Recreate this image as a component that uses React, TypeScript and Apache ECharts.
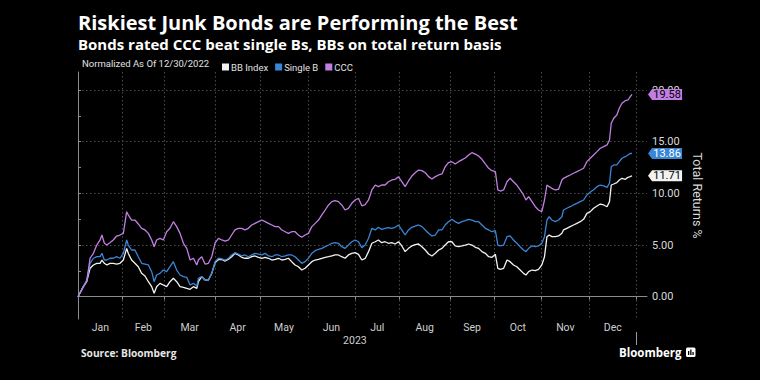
import React, { useEffect, useRef } from 'react';
import * as echarts from 'echarts';

// x = trading days since 12/30/2022
const tradingDays = [
  0, 2.4, 3.9, 5.4, 6.9, 8.4, 9.9, 10.7, 11.8, 12.9, 14.3, 15.8, 17.3, 18.8, 20.3, 21.8, 22.5, 24.0, 25.5, 27.0,
  28.5, 30.0, 31.5, 33.0, 34.1, 35.2, 36.7, 38.2, 39.7, 41.2, 42.7, 44.2, 45.7, 47.2, 48.7, 50.2, 51.7, 53.2, 53.9, 55.4,
  56.9, 58.4, 59.9, 61.4, 62.9, 64.4, 65.9, 67.4, 68.8, 70.3, 71.8, 73.3, 74.8, 76.3, 77.8, 79.3, 80.8, 82.3, 83.8, 85.3,
  86.8, 88.3, 89.8, 91.3, 92.8, 94.2, 95.7, 97.2, 98.7, 100.2, 101.7, 103.2, 104.7, 106.2, 107.7, 109.2, 110.7, 112.2, 113.7, 115.1,
  116.6, 118.1, 119.6, 121.1, 122.6, 124.1, 125.6, 127.1, 128.6, 130.1, 131.6, 133.1, 134.5, 136.0, 137.5, 139.0, 140.5, 142.0, 143.5, 145.0,
  146.5, 148.0, 149.5, 151.0, 152.5, 154.0, 155.5, 157.0, 158.5, 160.0, 161.5, 163.0, 164.4, 165.9, 167.4, 168.9, 170.4, 171.9, 173.4, 174.9,
  176.4, 177.9, 179.4, 180.9, 182.4, 183.9, 185.4, 186.9, 188.0, 189.1, 190.6, 192.1, 193.5, 195.0, 196.5, 198.0, 199.5, 200.6, 201.8, 203.3,
  204.8, 206.2, 207.7, 208.9, 210.0, 211.0, 212.2, 213.7, 215.2, 216.7, 217.4, 218.9, 220.4, 221.9, 223.4, 224.9, 226.4, 227.9, 229.4, 230.9,
  232.4, 233.9, 235.4, 236.9, 238.0, 238.8, 239.9, 241.3, 242.4, 243.6, 245.1, 246.3, 247.3, 248.1,
];

const ccc = [
  0, 0.97, 1.45, 3.72, 4.2, 5.0, 5.49, 5.97, 5.17, 5.0, 5.23, 5.49, 5.87, 5.97, 6.13, 8.23, 7.91, 7.42, 7.42, 7.04,
  6.62, 6.46, 6.13, 5.49, 4.84, 5.49, 5.65, 5.49, 6.29, 6.62, 7.26, 6.78, 6.13, 5.17, 4.68, 3.55, 3.72, 3.07, 3.55, 3.87,
  3.16, 3.23, 3.87, 5.2, 5.65, 5.49, 5.38, 5.49, 5.97, 6.46, 6.62, 6.62, 6.46, 6.62, 6.94, 7.1, 7.26, 7.42, 7.26, 7.1,
  6.94, 6.78, 6.78, 6.46, 6.29, 6.13, 6.29, 6.29, 5.97, 5.75, 5.97, 6.13, 6.78, 7.1, 7.42, 7.91, 8.39, 8.88, 9.2, 9.29,
  9.2, 8.88, 8.39, 8.55, 9.04, 9.36, 9.52, 8.8, 8.9, 9.36, 10.33, 10.81, 10.65, 10.81, 10.81, 11.13, 11.3, 11.36, 11.6, 11.13,
  10.65, 11.2, 11.68, 12.0, 12.26, 12.2, 12.0, 11.62, 11.4, 11.62, 11.78, 11.88, 12.58, 12.97, 13.07, 12.85, 13.07, 13.25, 13.43, 13.72,
  13.94, 13.8, 13.62, 13.3, 12.85, 12.43, 12.2, 12.1, 10.33, 10.23, 10.33, 11.13, 11.46, 11.13, 10.81, 10.33, 9.85, 9.36, 9.68, 9.2,
  8.71, 8.39, 8.23, 9.36, 10.81, 10.65, 10.49, 10.33, 10.4, 11.3, 11.46, 11.62, 11.78, 11.95, 12.1, 12.26, 12.43, 13.07, 13.4, 13.72,
  14.04, 14.37, 14.52, 14.69, 15.17, 16.79, 17.27, 17.59, 18.24, 18.72, 18.97, 19.04, 19.36, 19.58,
];

const singleB = [
  0, 0.97, 1.61, 3.23, 3.72, 3.87, 3.87, 4.2, 3.55, 3.55, 3.72, 3.72, 3.87, 3.72, 4.2, 5.49, 5.0, 4.52, 4.52, 3.87,
  3.23, 3.16, 3.07, 2.42, 1.45, 2.1, 2.26, 2.58, 2.42, 2.9, 3.39, 2.58, 2.1, 1.94, 1.88, 1.13, 1.29, 1.03, 1.78, 1.94,
  1.61, 1.61, 2.26, 3.39, 3.72, 3.65, 3.55, 3.72, 4.04, 4.26, 4.13, 3.94, 4.04, 3.87, 4.04, 4.2, 4.13, 4.04, 4.2, 3.94,
  3.87, 4.04, 4.04, 3.87, 3.94, 4.04, 4.04, 3.87, 3.55, 3.23, 3.39, 3.72, 4.2, 4.45, 4.59, 4.68, 4.84, 5.0, 5.17, 5.23,
  5.17, 4.84, 4.68, 5.0, 5.32, 5.49, 5.32, 4.75, 5.0, 5.65, 6.62, 6.46, 6.72, 6.52, 6.62, 6.68, 6.62, 6.72, 6.94, 6.46,
  5.97, 6.46, 6.72, 6.84, 6.94, 6.78, 6.46, 6.14, 5.88, 5.97, 6.46, 6.46, 6.94, 7.26, 7.49, 7.26, 7.1, 7.26, 7.36, 7.49,
  7.42, 7.26, 7.26, 6.94, 6.62, 6.46, 6.29, 6.4, 5.0, 4.91, 5.0, 5.81, 5.88, 5.49, 5.17, 4.84, 4.52, 4.36, 4.68, 4.91,
  4.84, 4.91, 5.17, 5.81, 7.42, 7.74, 7.42, 7.26, 7.42, 7.74, 8.39, 8.56, 8.71, 8.88, 9.04, 9.2, 9.36, 9.85, 10.13, 10.36,
  10.65, 10.81, 10.72, 10.59, 10.98, 12.58, 12.75, 12.75, 13.07, 13.4, 13.55, 13.72, 13.88, 13.86,
];

const bbIndex = [
  0, 0.97, 1.45, 2.75, 3.07, 3.23, 3.23, 3.55, 3.23, 3.07, 3.23, 3.23, 3.16, 3.23, 3.55, 4.68, 4.2, 3.55, 3.23, 2.9,
  2.26, 2.0, 1.45, 0.97, 0.33, 0.97, 1.29, 1.13, 0.97, 1.45, 1.78, 1.45, 0.97, 0.91, 0.81, 0.71, 0.97, 0.81, 1.45, 1.94,
  1.61, 1.61, 2.26, 3.3, 3.6, 3.6, 3.45, 3.62, 3.87, 4.2, 4.04, 3.81, 3.72, 3.72, 3.87, 3.94, 3.81, 3.72, 3.81, 3.72,
  3.55, 3.62, 3.72, 3.55, 3.62, 3.72, 3.39, 3.07, 2.9, 2.58, 2.75, 3.07, 3.39, 3.55, 3.62, 3.72, 3.81, 3.87, 3.94, 4.04,
  4.04, 3.87, 3.72, 4.04, 4.2, 4.26, 4.1, 3.55, 3.7, 4.36, 5.17, 5.32, 5.49, 5.23, 5.32, 5.17, 5.23, 5.1, 5.32, 4.91,
  4.36, 4.68, 4.91, 5.03, 5.1, 4.84, 4.52, 4.13, 3.94, 4.2, 4.52, 4.68, 5.0, 5.32, 5.32, 4.91, 4.84, 4.91, 5.0, 5.1,
  5.0, 4.78, 4.68, 4.36, 4.2, 3.87, 3.81, 4.1, 2.75, 2.65, 2.75, 3.55, 3.39, 3.07, 2.9, 2.58, 2.26, 2.1, 2.42, 2.58,
  2.52, 2.65, 3.07, 3.87, 5.81, 5.97, 5.81, 5.81, 5.88, 6.14, 6.46, 6.62, 6.78, 6.94, 7.1, 7.26, 7.49, 8.07, 8.23, 8.56,
  8.78, 8.97, 8.88, 8.71, 9.2, 10.81, 10.91, 11.04, 11.3, 11.46, 11.36, 11.56, 11.62, 11.71,
];

const seriesNames = ['BB Index', 'Single B', 'CCC'];
const seriesColors = ['#f2f2f2', '#3a86d6', '#c27fe3'];
const tagTextColors = ['#000000', '#ffffff', '#000000'];

// month boundaries in trading days
const monthBoundaries = [0, 20, 38.5, 61.5, 81.5, 103, 124, 144, 166.5, 186.5, 207.5, 229, 250];
const monthLabels = ['Jan', 'Feb', 'Mar', 'Apr', 'May', 'Jun', 'Jul', 'Aug', 'Sep', 'Oct', 'Nov', 'Dec'];
const yearLabel = '2023';
const yearLabelAt = 124;
const yLabelValues = [0, 5, 10, 15, 20];
const yTickValues = [0, 2.5, 5, 7.5, 10, 12.5, 15, 17.5, 20];

const title = 'Riskiest Junk Bonds are Performing the Best';
const subtitle = 'Bonds rated CCC beat single Bs, BBs on total return basis';
const normalizedNote = 'Normalized As Of 12/30/2022';
const source = 'Source: Bloomberg';

export default function App() {
  const ref = useRef<HTMLDivElement>(null);
  useEffect(() => {
    document.body.style.margin = '0';
    document.body.style.background = '#000';
    const chart = echarts.init(ref.current!, undefined, { renderer: 'svg' });
    const monthMid = monthLabels.map((_, i) => (monthBoundaries[i] + monthBoundaries[i + 1]) / 2);
    const axisColor = '#8c8c8c';
    const gridLine = { show: true, lineStyle: { color: '#4a4a4a', width: 1, type: [1.5, 2.5] } };
    const dataSets = [bbIndex, singleB, ccc];
    const series = dataSets.map((vals, si) => {
      const last = vals.length - 1;
      return {
        name: seriesNames[si],
        type: 'line',
        xAxisIndex: 0,
        yAxisIndex: 0,
        showSymbol: false,
        symbol: 'none',
        color: seriesColors[si],
        lineStyle: { width: 1.3, color: seriesColors[si] },
        data: tradingDays.map((d, i) => [d, vals[i]]),
        markPoint: {
          silent: true,
          z: 20,
          symbol: 'path://M0,5L4,0L34,0L34,10L4,10Z',
          symbolSize: [34, 11],
          symbolKeepAspect: false,
          symbolOffset: [33, 0],
          itemStyle: { color: seriesColors[si] },
          label: {
            show: true,
            position: 'inside',
            offset: [2, 0],
            color: tagTextColors[si],
            fontSize: 11,
            fontFamily: 'Roboto',
            formatter: (p: any) => Number(p.value).toFixed(2),
          },
          data: [{ coord: [tradingDays[last], vals[last]], value: vals[last] }],
        },
      };
    });

    const option: any = {
      backgroundColor: '#000',
      animation: false,
      grid: { left: 78, right: 113, top: 72, bottom: 61, containLabel: false },
      legend: {
        data: seriesNames,
        icon: 'rect',
        itemWidth: 7,
        itemHeight: 7,
        itemGap: 7,
        left: 217,
        top: 57,
        selectedMode: false,
        textStyle: { color: '#e0e0e0', fontSize: 9.5, fontFamily: 'Roboto', padding: [0, 0, 0, -3] },
      },
      xAxis: [
        {
          type: 'value',
          min: 0,
          max: 254.8,
          position: 'bottom',
          axisLine: { show: true, lineStyle: { color: axisColor } },
          axisTick: { show: true, customValues: monthBoundaries, length: 3, lineStyle: { color: axisColor } },
          axisLabel: {
            customValues: monthMid,
            formatter: (v: number) => {
              let best = 0;
              monthMid.forEach((m, i) => {
                if (Math.abs(m - v) < Math.abs(monthMid[best] - v)) best = i;
              });
              return monthLabels[best];
            },
            color: '#cfcfcf',
            fontSize: 10.5,
            fontFamily: 'Roboto',
            margin: 3,
          },
          splitLine: gridLine,
        },
        {
          type: 'value',
          min: 0,
          max: 254.8,
          position: 'bottom',
          axisLine: { show: false },
          axisTick: { show: false, customValues: [yearLabelAt] },
          splitLine: { show: false },
          axisLabel: {
            customValues: [yearLabelAt],
            formatter: () => yearLabel,
            color: '#cfcfcf',
            fontSize: 10.5,
            fontFamily: 'Roboto',
            margin: 16,
          },
        },
      ],
      yAxis: [
        {
          type: 'value',
          position: 'right',
          min: -2.16,
          max: 21.75,
          axisLine: { show: true, lineStyle: { color: axisColor } },
          axisTick: { show: true, customValues: yTickValues, length: 3, lineStyle: { color: axisColor } },
          axisLabel: {
            customValues: yLabelValues,
            formatter: (v: number) => v.toFixed(2),
            color: '#d9d9d9',
            fontSize: 11,
            fontFamily: 'Roboto',
            margin: 5,
          },
          splitLine: { show: false },
          name: 'Total Returns %',
          nameLocation: 'middle',
          nameGap: 31,
          nameRotate: -90,
          nameTextStyle: { color: '#d9d9d9', fontSize: 12.5, fontFamily: 'Roboto' },
        },
        {
          type: 'value',
          position: 'right',
          min: -2.16,
          max: 21.75,
          axisLine: { show: false },
          axisTick: { show: false, customValues: yLabelValues },
          axisLabel: { show: false },
          splitLine: gridLine,
        },
      ],
      graphic: [
        {
          type: 'text', x: 78, y: 22.5,
          style: { text: title, fill: '#ffffff', fontSize: 20, fontWeight: 'bold', fontFamily: 'Open Sans', verticalAlign: 'middle', lineHeight: 22 },
        },
        {
          type: 'text', x: 78, y: 43.5,
          style: { text: subtitle, fill: '#ffffff', fontSize: 15, fontWeight: 'bold', fontFamily: 'Open Sans', verticalAlign: 'middle', lineHeight: 17 },
        },
        {
          type: 'text', x: 82, y: 63,
          style: { text: normalizedNote, fill: '#e0e0e0', fontSize: 9.5, fontFamily: 'Roboto', verticalAlign: 'middle' },
        },
        {
          type: 'text', x: 81, y: 353,
          style: { text: source, fill: '#e6e6e6', fontSize: 10.2, fontWeight: 'bold', fontFamily: 'Open Sans', verticalAlign: 'middle' },
        },
        {
          type: 'line', shape: { x1: 636.5, y1: 332, x2: 636.5, y2: 345 },
          style: { stroke: '#9a9a9a', lineWidth: 1 },
        },
        {
          type: 'text', x: 619, y: 352,
          style: { text: 'Bloomberg', fill: '#ffffff', fontSize: 11.5, fontWeight: 'bold', fontFamily: 'Open Sans', verticalAlign: 'middle' },
        },
        {
          type: 'rect', shape: { x: 686, y: 347.5, width: 9.5, height: 9.5, r: 1.5 },
          style: { fill: '#ffffff' },
        },
        { type: 'rect', shape: { x: 688, y: 351, width: 1.3, height: 4 }, style: { fill: '#000' } },
        { type: 'rect', shape: { x: 690.2, y: 349.5, width: 1.3, height: 5.5 }, style: { fill: '#000' } },
        { type: 'rect', shape: { x: 692.4, y: 352, width: 1.3, height: 3 }, style: { fill: '#000' } },
      ],
      series,
    };
    chart.setOption(option);
    return () => chart.dispose();
  }, []);
  return <div ref={ref} style={{ width: 760, height: 380, background: '#000' }} />;
}
